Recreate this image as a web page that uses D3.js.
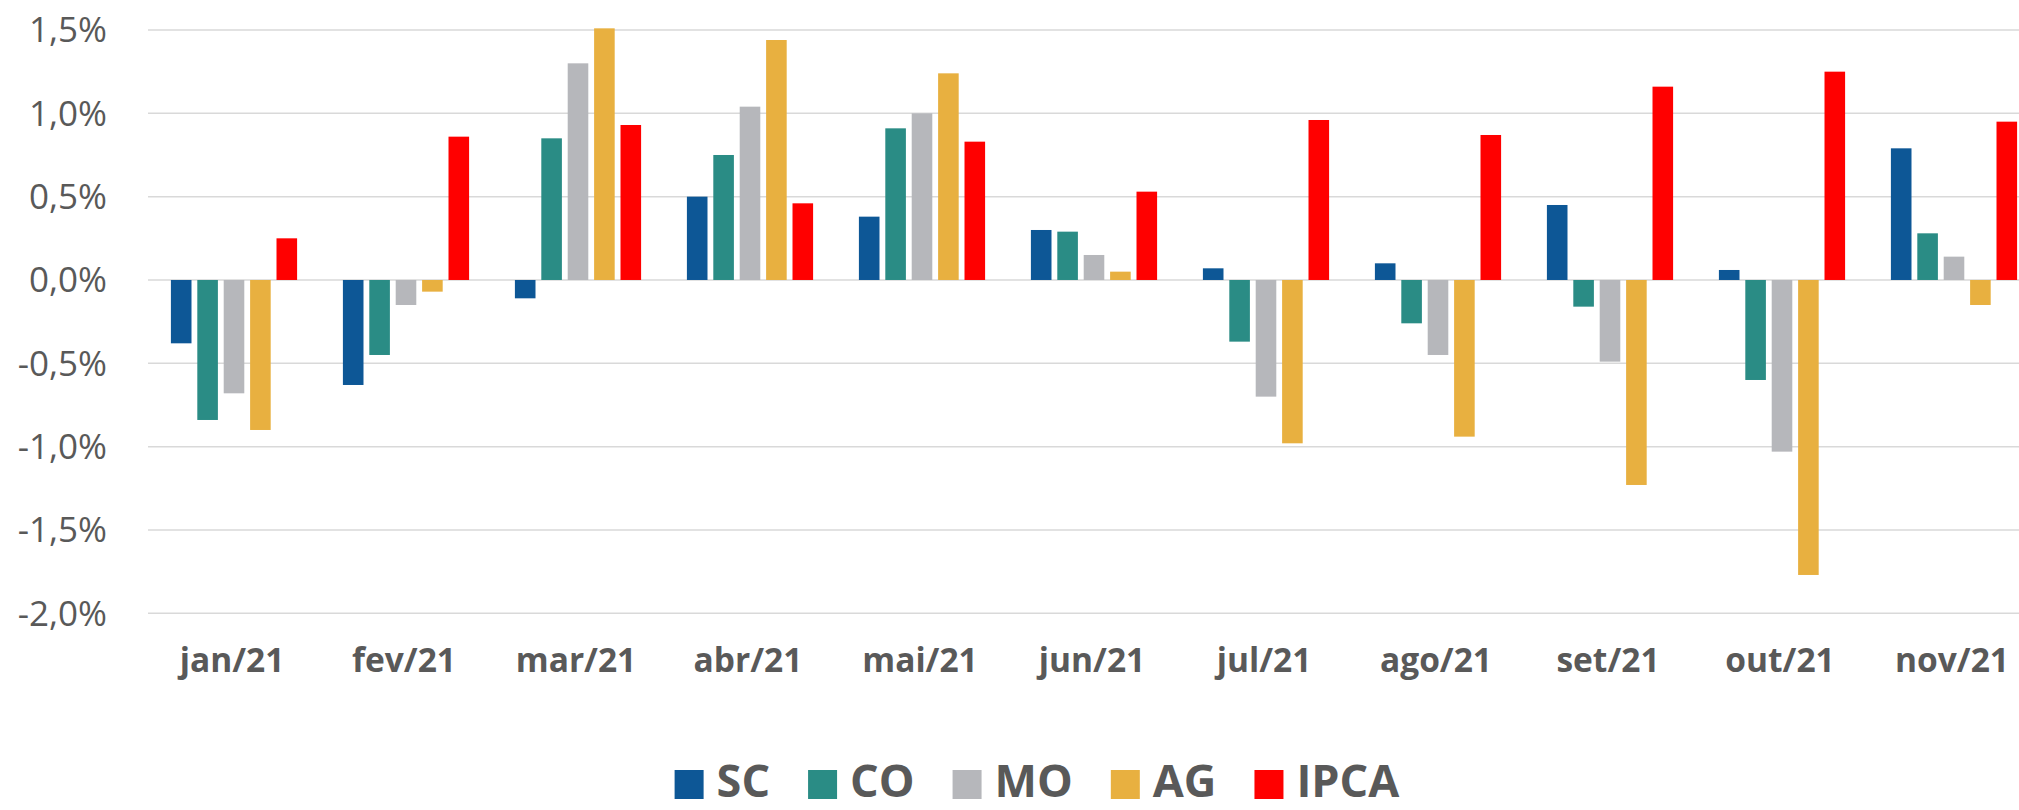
<!DOCTYPE html>
<html>
<head>
<meta charset="utf-8">
<script src="https://cdn.jsdelivr.net/npm/d3@7"></script>
<style>
  html, body { margin: 0; padding: 0; background: #ffffff; }
  svg { display: block; font-family: "Open Sans", "Noto Sans", sans-serif; }
</style>
</head>
<body>
<svg id="chart" width="2019" height="810"></svg>
<script>
const months = ["jan/21","fev/21","mar/21","abr/21","mai/21","jun/21","jul/21","ago/21","set/21","out/21","nov/21"];
const seriesNames = ["SC","CO","MO","AG","IPCA"];
const seriesColors = ["#0d5796","#2a8c85","#b6b7bb","#e8b040","#ff0000"];
const SC   = [-0.38,-0.63,-0.11,0.50,0.38,0.30,0.07,0.10,0.45,0.06,0.79];
const CO   = [-0.84,-0.45,0.85,0.75,0.91,0.29,-0.37,-0.26,-0.16,-0.60,0.28];
const MO   = [-0.68,-0.15,1.30,1.04,1.00,0.15,-0.70,-0.45,-0.49,-1.03,0.14];
const AG   = [-0.90,-0.07,1.51,1.44,1.24,0.05,-0.98,-0.94,-1.23,-1.77,-0.15];
const IPCA = [0.25,0.86,0.93,0.46,0.83,0.53,0.96,0.87,1.16,1.25,0.95];
const yTicks = [1.5,1.0,0.5,0.0,-0.5,-1.0,-1.5,-2.0];

const seriesValues = [SC, CO, MO, AG, IPCA];
const textColor = "#595959";

const svg = d3.select("#chart");

const x = d3.scaleBand().domain(months).range([148, 2040]).paddingInner(0).paddingOuter(0);
const xs = d3.scaleBand().domain(seriesNames).range([0, x.bandwidth()]).paddingInner(0.22).paddingOuter(0.8675);
const y = d3.scaleLinear().domain([-2.0, 1.5]).range([613.3, 30]);

// gridlines
svg.append("g").selectAll("line").data(yTicks).join("line")
  .attr("x1", 148).attr("x2", 2019)
  .attr("y1", d => y(d)).attr("y2", d => y(d))
  .attr("stroke", "#d9d9d9").attr("stroke-width", 1.5);

// y axis labels
const fmt = v => (v < 0 ? "-" : "") + Math.abs(v).toFixed(1).replace(".", ",") + "%";
svg.append("g").selectAll("text").data(yTicks).join("text")
  .attr("x", 107).attr("y", d => y(d)).attr("dy", "0.35em")
  .attr("text-anchor", "end")
  .attr("font-size", 35).attr("fill", textColor)
  .text(d => fmt(d));

// bars
const groups = svg.append("g").selectAll("g").data(months).join("g")
  .attr("transform", d => `translate(${x(d)},0)`);
groups.selectAll("rect").data((m, i) => seriesNames.map((s, k) => ({s, k, v: seriesValues[k][i]})))
  .join("rect")
  .attr("x", d => xs(d.s))
  .attr("width", xs.bandwidth())
  .attr("y", d => y(Math.max(0, d.v)))
  .attr("height", d => Math.abs(y(d.v) - y(0)))
  .attr("fill", d => seriesColors[d.k]);

// x labels
svg.append("g").selectAll("text").data(months).join("text")
  .attr("x", d => x(d) + x.bandwidth() / 2 - 2)
  .attr("y", 672)
  .attr("text-anchor", "middle")
  .attr("font-size", 33.5).attr("font-weight", "bold").attr("fill", textColor)
  .text(d => d);

// legend
const legend = svg.append("g");
let lx = 674.6;
seriesNames.forEach((name, k) => {
  legend.append("rect").attr("x", lx).attr("y", 770).attr("width", 29).attr("height", 29)
    .attr("fill", seriesColors[k]);
  const t = legend.append("text").attr("x", lx + 29 + 13).attr("y", 797)
    .attr("font-size", 45).attr("font-weight", "bold").attr("fill", textColor).text(name);
  const w = t.node().getComputedTextLength();
  lx = lx + 29 + 13 + w + 38;
});
</script>
</body>
</html>
